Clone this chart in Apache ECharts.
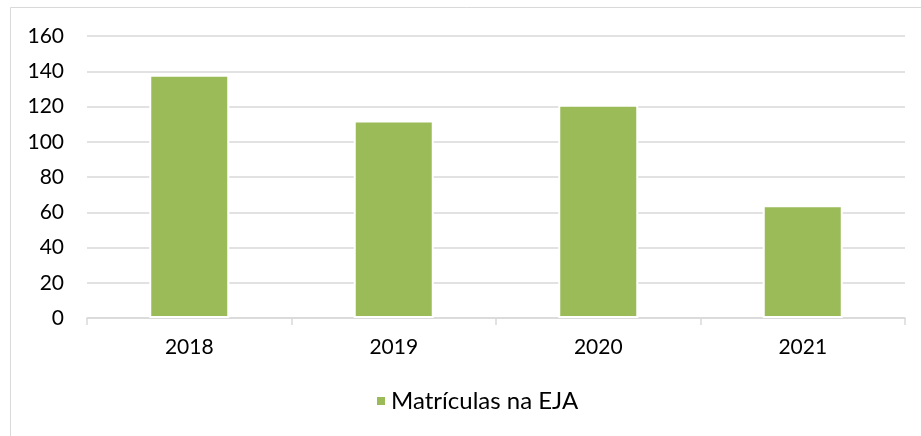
<!DOCTYPE html>
<html>
<head>
<meta charset="utf-8">
<script src="https://cdn.jsdelivr.net/npm/echarts@6/dist/echarts.min.js"></script>
<style>html,body{margin:0;padding:0;background:#fff;}#c{width:921px;height:436px;}</style>
</head>
<body>
<div id="c"></div>
<script>
var categories = ['2018', '2019', '2020', '2021'];
var seriesName = 'Matrículas na EJA';
var values = [138, 112, 121, 64];
var yTicks = { min: 0, max: 160, interval: 20 };

var chart = echarts.init(document.getElementById('c'), null, { renderer: 'canvas' });
var font = 'Lato, "Open Sans", sans-serif';
chart.setOption({
  animation: false,
  backgroundColor: '#ffffff',
  graphic: [{
    type: 'rect',
    shape: { x: 10.5, y: 7.5, width: 930, height: 450 },
    style: { fill: 'none', stroke: '#d9d9d9', lineWidth: 1 },
    silent: true
  }],
  grid: { left: 87, right: 16, top: 36, bottom: 118, containLabel: false },
  legend: {
    data: [seriesName],
    top: 389,
    left: 375,
    padding: 0,
    itemWidth: 10,
    itemHeight: 10,
    itemGap: 10,
    icon: 'rect',
    textStyle: { fontFamily: font, fontSize: 24, color: '#000' }
  },
  xAxis: {
    type: 'category',
    data: categories,
    axisLine: { show: true, lineStyle: { color: '#d9d9d9', width: 1.5 } },
    axisTick: { show: true, length: 7, lineStyle: { color: '#d9d9d9', width: 1.5 } },
    axisLabel: { fontFamily: font, fontSize: 21, color: '#000', margin: 19 },
    splitLine: { show: false }
  },
  yAxis: {
    type: 'value',
    min: yTicks.min,
    max: yTicks.max,
    interval: yTicks.interval,
    axisLine: { show: false },
    axisTick: { show: false },
    axisLabel: { fontFamily: font, fontSize: 21, color: '#000', margin: 23 },
    splitLine: { show: true, lineStyle: { color: '#d9d9d9', width: 1.5 } }
  },
  series: [{
    name: seriesName,
    type: 'bar',
    data: values,
    barWidth: 80,
    itemStyle: { color: '#9bbb59', borderColor: '#ffffff', borderWidth: 2 }
  }]
});
</script>
</body>
</html>
